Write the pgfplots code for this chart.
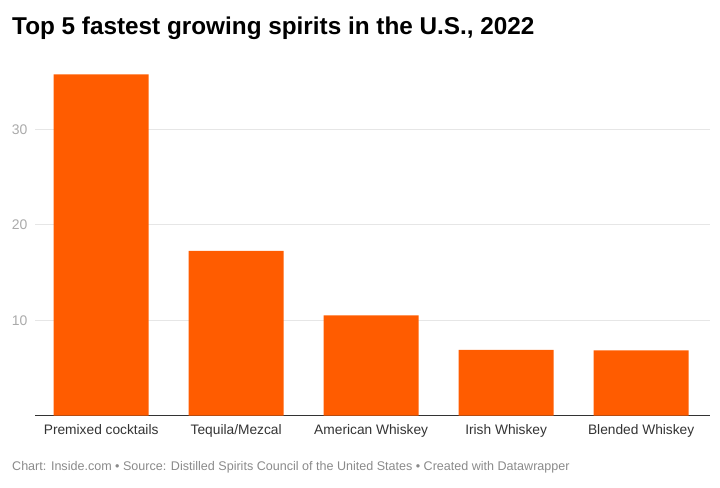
\documentclass[border=0pt]{standalone}
\usepackage{pgfplots}
\pgfplotsset{compat=1.18}
\usepackage{fontspec}
\setmainfont{Liberation Sans}
\definecolor{barorange}{HTML}{FF5C00}
\definecolor{gridgray}{HTML}{E6E6E6}
\definecolor{ticktext}{HTML}{AAAAAA}
\definecolor{labeltext}{HTML}{333333}
\definecolor{foottext}{HTML}{8A8A8A}
\definecolor{baseline}{HTML}{333333}

\begin{document}
\begin{tikzpicture}[x=1bp,y=1bp]
% canvas
\path[use as bounding box] (0,0) rectangle (720,-488);

\begin{axis}[
  at={(35bp,-415.7bp)}, anchor=south west,
  scale only axis,
  width=675bp, height=343.8bp,
  xmin=-0.49, xmax=4.51,
  ymin=0, ymax=36,
  ybar, bar width=0.704,
  axis x line*=bottom,
  axis y line*=left,
  x axis line style={draw=baseline, line width=1.3bp, -},
  y axis line style={draw=none},
  major tick length=0pt,
  xtick=data,
  xticklabels={Premixed cocktails, Tequila/Mezcal, American Whiskey, Irish Whiskey, Blended Whiskey},
  x tick label style={font=\fontsize{13.8}{16}\selectfont, text=labeltext, yshift=-5bp},
  ytick={10,20,30},
  y tick label style={font=\fontsize{14}{16}\selectfont, text=ticktext, xshift=-4bp},
  /pgf/number format/assume math mode=true,
  ymajorgrids,
  grid style={draw=gridgray, line width=0.8bp},
  axis on top=false,
  clip=false,
]
\addplot[fill=barorange, draw=none] coordinates {
  (0,35.75) (1,17.25) (2,10.5) (3,6.9) (4,6.83)
};
\end{axis}

\node[anchor=west, inner sep=0pt] at (12,-28)
  {\fontsize{24.4}{28}\selectfont\bfseries Top 5 fastest growing spirits in the U.S., 2022};
\node[anchor=west, inner sep=0pt, text=foottext] at (12,-467)
  {\fontsize{12.6}{14}\selectfont Chart: Inside.com \textbullet{} Source: Distilled Spirits Council of the United States \textbullet{} Created with Datawrapper};
\end{tikzpicture}
\end{document}
